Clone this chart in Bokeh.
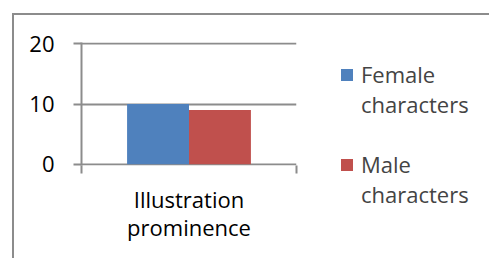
from bokeh.plotting import figure
from bokeh.models import (ColumnDataSource, FactorRange, Range1d, LinearAxis, CategoricalAxis,
                          FixedTicker, Legend, LegendItem)
from bokeh.transform import dodge
from bokeh.embed import file_html
from bokeh.resources import INLINE

categories = ["Illustration\nprominence"]
female = [10]
male = [9]
series_names = ["Female\ncharacters", "Male\ncharacters"]
y_ticks = [0, 10, 20]

FONT = "Open Sans"
FS = "22px"
GRAY = "#8c8c8c"

src = ColumnDataSource(dict(cat=categories, female=female, male=male))

p = figure(x_range=FactorRange(factors=categories, range_padding=0),
           y_range=Range1d(-0.2, 20.2),
           frame_width=215, frame_height=123,
           min_border_left=67, min_border_top=27, min_border_right=193, min_border_bottom=93,
           x_axis_location=None, y_axis_location=None,
           output_backend="svg", toolbar_location=None,
           styles={"border-left": f"2px solid {GRAY}", "border-top": f"2px solid {GRAY}",
                   "margin-left": "12px", "margin-top": "13px"})
p.outline_line_color = None
p.xgrid.grid_line_color = None
p.ygrid.grid_line_color = GRAY
p.ygrid.grid_line_width = 2
p.ygrid.ticker = FixedTicker(ticks=y_ticks)

bw = 0.288
r1 = p.vbar(x=dodge("cat", -bw / 2, range=p.x_range), top="female", width=bw, source=src,
            fill_color="#4F81BD", line_color=None)
r2 = p.vbar(x=dodge("cat", bw / 2, range=p.x_range), top="male", width=bw, source=src,
            fill_color="#C0504D", line_color=None)

# y axis
yax = LinearAxis(ticker=FixedTicker(ticks=y_ticks), axis_line_color=GRAY, axis_line_width=2,
                 major_tick_line_color=GRAY, major_tick_line_width=2, major_tick_in=0, major_tick_out=8,
                 minor_tick_line_color=None, major_label_standoff=19,
                 major_label_text_font=FONT, major_label_text_font_size=FS,
                 major_label_text_color="#000000")
p.add_layout(yax, "left")

# x axis: ticks at the category boundaries (synthetic coordinates 0 and 1)
xticks = LinearAxis(ticker=FixedTicker(ticks=[0, 1]), axis_line_color=None,
                    major_tick_line_color=GRAY, major_tick_line_width=2, major_tick_in=0, major_tick_out=8,
                    minor_tick_line_color=None, major_label_text_font_size="0px", major_label_standoff=0,
                    major_label_text_alpha=0)
p.add_layout(xticks, "below")
xax = CategoricalAxis(axis_line_color=None, major_tick_line_color=None, major_label_standoff=4,
                      major_label_text_font=FONT, major_label_text_font_size=FS,
                      major_label_text_color="#000000", major_label_text_line_height=0.95)
p.add_layout(xax, "below")

# a blank leading line keeps each swatch level with the first line of its label
legend_labels = [" \n" + s for s in series_names]
legend = Legend(items=[LegendItem(label=legend_labels[0], renderers=[r1]),
                       LegendItem(label=legend_labels[1], renderers=[r2])],
                location=(43, -44), border_line_color=None, background_fill_alpha=0,
                glyph_width=15, glyph_height=15, label_standoff=7, spacing=0,
                label_text_font=FONT, label_text_font_size=FS,
                margin=0, padding=0)
p.add_layout(legend, "right")

open("out.html", "w").write(file_html(p, INLINE))
